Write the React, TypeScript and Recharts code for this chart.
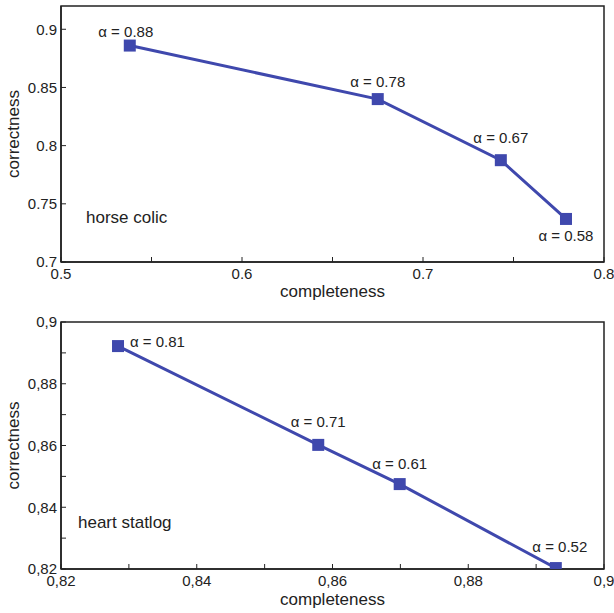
import { LineChart, Line, XAxis, YAxis, ReferenceArea } from 'recharts';

// horse colic
const horseCompleteness = [0.538, 0.675, 0.743, 0.779];
const horseCorrectness = [0.886, 0.84, 0.7875, 0.737];
const horseAlpha = ['0.88', '0.78', '0.67', '0.58'];
const horseXTicks = [0.5, 0.55, 0.6, 0.65, 0.7, 0.75, 0.8];
const horseXLabels = [0.5, 0.6, 0.7, 0.8];
const horseYTicks = [0.7, 0.75, 0.8, 0.85, 0.9];

// heart statlog
const heartCompleteness = [0.8284, 0.8579, 0.8699, 0.8929];
const heartCorrectness = [0.8922, 0.8602, 0.8475, 0.8203];
const heartAlpha = ['0.81', '0.71', '0.61', '0.52'];
const heartXTicks = [0.82, 0.83, 0.84, 0.85, 0.86, 0.87, 0.88, 0.89, 0.9];
const heartXLabels = [0.82, 0.84, 0.86, 0.88, 0.9];
const heartYTicks = [0.82, 0.83, 0.84, 0.85, 0.86, 0.87, 0.88, 0.89, 0.9];
const heartYLabels = [0.82, 0.84, 0.86, 0.88, 0.9];

const BLUE = '#3f48ad';
const INK = '#222';
const FONT = 'Liberation Sans, Arial, sans-serif';

// label offsets from the marker, per point
const horseLabelOffset = [[-4, -14], [0, -18], [0, -23], [0, 17]];
const heartLabelOffset = [[12, -5], [0, -23], [0, -21], [4, -22]];

const fmtDot = (labels: number[]) => (v: number) =>
  labels.some((l) => Math.abs(l - v) < 1e-9) ? String(+v.toFixed(2)) : '';
const fmtComma = (labels: number[]) => (v: number) =>
  labels.some((l) => Math.abs(l - v) < 1e-9) ? String(+v.toFixed(2)).replace('.', ',') : '';

function Square(props: any) {
  const { cx, cy } = props;
  if (cx == null || cy == null) return null;
  return <rect x={cx - 6} y={cy - 6} width={12} height={12} fill={BLUE} />;
}

function makeLabel(alpha: string[], offs: number[][]) {
  return (props: any) => {
    const { x, y, index } = props;
    const [dx, dy] = offs[index];
    return (
      <text
        x={x + dx}
        y={y + dy}
        textAnchor={dx > 5 ? 'start' : 'middle'}
        dominantBaseline="central"
        fontSize={15}
        fill={INK}
        fontFamily={FONT}
      >
        {'α = ' + alpha[index]}
      </text>
    );
  };
}

interface PanelProps {
  data: { x: number; y: number }[];
  top: number;
  height: number;
  plotTop: number;
  plotBottomPad: number;
  xDomain: [number, number];
  yDomain: [number, number];
  xTicks: number[];
  yTicks: number[];
  xFmt: (v: number) => string;
  yFmt: (v: number) => string;
  alpha: string[];
  offs: number[][];
  name: string;
  nameTop: number;
  nameLeft: number;
}

function Panel(p: PanelProps) {
  const tickStyle = { fontSize: 15, fill: INK, fontFamily: FONT };
  const axisStroke = { stroke: INK, strokeWidth: 1.5 };
  return (
    <div style={{ position: 'absolute', left: 0, top: p.top, width: 614, height: p.height }}>
      <LineChart
        width={614}
        height={p.height}
        data={p.data}
        margin={{ top: p.plotTop, right: 10, left: 0, bottom: 0 }}
      >
        <ReferenceArea
          x1={p.xDomain[0]}
          x2={p.xDomain[1]}
          y1={p.yDomain[0]}
          y2={p.yDomain[1]}
          fill="none"
          stroke={INK}
          strokeWidth={1.5}
          ifOverflow="visible"
        />
        <XAxis
          dataKey="x"
          type="number"
          domain={p.xDomain}
          ticks={p.xTicks}
          interval={0}
          allowDataOverflow
          height={p.plotBottomPad}
          tickSize={-5}
          tickMargin={11}
          tickFormatter={p.xFmt}
          tick={tickStyle}
          axisLine={axisStroke}
          tickLine={{ stroke: INK }}
          label={{
            value: 'completeness',
            position: 'insideBottom',
            offset: 8,
            style: { fontSize: 17, fill: INK, fontFamily: FONT },
          }}
        />
        <XAxis
          xAxisId="top"
          orientation="top"
          dataKey="x"
          type="number"
          domain={p.xDomain}
          ticks={p.xTicks}
          interval={0}
          allowDataOverflow
          height={0}
          tickSize={-5}
          tickFormatter={() => ''}
          axisLine={axisStroke}
          tickLine={{ stroke: INK }}
        />
        <YAxis
          type="number"
          domain={p.yDomain}
          ticks={p.yTicks}
          interval={0}
          allowDataOverflow
          width={61}
          tickSize={-5}
          tickMargin={9}
          tickFormatter={p.yFmt}
          tick={tickStyle}
          axisLine={axisStroke}
          tickLine={{ stroke: INK }}
          label={{
            value: 'correctness',
            angle: -90,
            position: 'insideLeft',
            offset: 13,
            style: { fontSize: 17, fill: INK, fontFamily: FONT, textAnchor: 'middle' },
          }}
        />
        <YAxis
          yAxisId="right"
          orientation="right"
          type="number"
          domain={p.yDomain}
          ticks={p.yTicks}
          interval={0}
          allowDataOverflow
          width={0}
          tickSize={-5}
          tickFormatter={() => ''}
          axisLine={axisStroke}
          tickLine={{ stroke: INK }}
        />
        <Line
          dataKey="y"
          stroke={BLUE}
          strokeWidth={3}
          dot={<Square />}
          activeDot={false}
          isAnimationActive={false}
          label={makeLabel(p.alpha, p.offs)}
        />
      </LineChart>
      <div
        style={{
          position: 'absolute',
          left: p.nameLeft,
          top: p.nameTop,
          fontSize: 17,
          color: INK,
          fontFamily: FONT,
          lineHeight: '20px',
          whiteSpace: 'nowrap',
        }}
      >
        {p.name}
      </div>
    </div>
  );
}

export default function App() {
  const horseData = horseCompleteness.map((x, i) => ({ x, y: horseCorrectness[i] }));
  const heartData = heartCompleteness.map((x, i) => ({ x, y: heartCorrectness[i] }));
  return (
    <div style={{ position: 'absolute', left: 0, top: 0, width: 614, height: 613, background: '#fff' }}>
      <Panel
        data={horseData}
        top={0}
        height={305}
        plotTop={6}
        plotBottomPad={43}
        xDomain={[0.5, 0.8]}
        yDomain={[0.7, 0.92]}
        xTicks={horseXTicks}
        yTicks={horseYTicks}
        xFmt={fmtDot(horseXLabels)}
        yFmt={fmtDot(horseYTicks)}
        alpha={horseAlpha}
        offs={horseLabelOffset}
        name="horse colic"
        nameLeft={86}
        nameTop={208}
      />
      <Panel
        data={heartData}
        top={305}
        height={308}
        plotTop={17}
        plotBottomPad={44}
        xDomain={[0.82, 0.9]}
        yDomain={[0.82, 0.9]}
        xTicks={heartXTicks}
        yTicks={heartYTicks}
        xFmt={fmtComma(heartXLabels)}
        yFmt={fmtComma(heartYLabels)}
        alpha={heartAlpha}
        offs={heartLabelOffset}
        name="heart statlog"
        nameLeft={78}
        nameTop={208}
      />
    </div>
  );
}
